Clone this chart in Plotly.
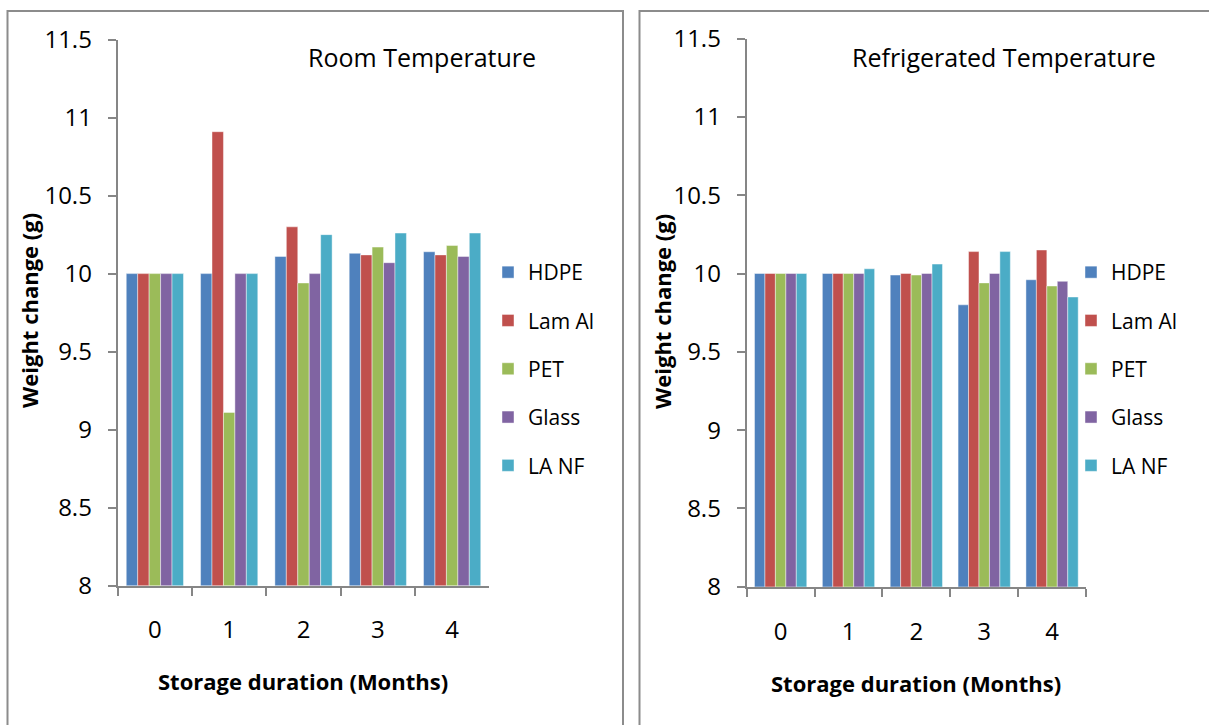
import plotly.graph_objects as go

W, H = 1209, 725

months = ["0", "1", "2", "3", "4"]
series_names = ["HDPE", "Lam Al", "PET", "Glass", "LA NF"]
colors = ["#4F81BD", "#C0504D", "#9BBB59", "#8064A2", "#4BACC6"]

# Room temperature
room_hdpe = [10.00, 10.00, 10.11, 10.13, 10.14]
room_lamal = [10.00, 10.91, 10.30, 10.12, 10.12]
room_pet = [10.00, 9.11, 9.94, 10.17, 10.18]
room_glass = [10.00, 10.00, 10.00, 10.07, 10.11]
room_lanf = [10.00, 10.00, 10.25, 10.26, 10.26]

# Refrigerated temperature
ref_hdpe = [10.00, 10.00, 9.99, 9.80, 9.96]
ref_lamal = [10.00, 10.00, 10.00, 10.14, 10.15]
ref_pet = [10.00, 10.00, 9.99, 9.94, 9.92]
ref_glass = [10.00, 10.00, 10.00, 10.00, 9.95]
ref_lanf = [10.00, 10.03, 10.06, 10.14, 9.85]

room = [room_hdpe, room_lamal, room_pet, room_glass, room_lanf]
refr = [ref_hdpe, ref_lamal, ref_pet, ref_glass, ref_lanf]

y_ticks = [8, 8.5, 9, 9.5, 10, 10.5, 11, 11.5]
y_ticktext = ["8", "8.5", "9", "9.5", "10", "10.5", "11", "11.5"]

FONT = "Open Sans"
AXIS_GRAY = "#868686"


def px(x):
    return x / W


def py(y):
    return 1 - y / H


fig = go.Figure()
for i, name in enumerate(series_names):
    fig.add_trace(go.Bar(
        x=months, y=room[i], name=name, marker_color=colors[i],
        marker_line=dict(color="rgba(255,255,255,0.55)", width=0.8),
        xaxis="x", yaxis="y", legend="legend", legendgroup="a" + name,
    ))
for i, name in enumerate(series_names):
    fig.add_trace(go.Bar(
        x=months, y=refr[i], name=name, marker_color=colors[i],
        marker_line=dict(color="rgba(255,255,255,0.55)", width=0.8),
        xaxis="x2", yaxis="y2", legend="legend2", legendgroup="b" + name,
    ))

xaxis_common = dict(
    type="category", showgrid=False, showline=True, linecolor=AXIS_GRAY,
    linewidth=2, ticks="outside", tickson="boundaries", ticklen=8,
    tickwidth=2, tickcolor=AXIS_GRAY, ticklabelstandoff=22, automargin=False,
    tickfont=dict(family=FONT, size=24, color="black"), zeroline=False,
)
yaxis_common = dict(
    range=[8, 11.5], tickvals=y_ticks, ticktext=y_ticktext, showgrid=False,
    showline=True, linecolor=AXIS_GRAY, linewidth=2, ticks="outside",
    ticklen=8, tickwidth=2, tickcolor=AXIS_GRAY, ticklabelstandoff=11,
    automargin=False,
    tickfont=dict(family=FONT, size=24, color="black"), zeroline=False,
)

legend_common = dict(
    font=dict(family=FONT, size=21, color="black"), tracegroupgap=18,
    bgcolor="rgba(0,0,0,0)", xanchor="left", yanchor="top",
    itemclick=False, itemdoubleclick=False,
)

fig.update_layout(
    width=W, height=H, margin=dict(l=0, r=0, t=0, b=0, autoexpand=False),
    paper_bgcolor="white", plot_bgcolor="white",
    barmode="group", bargap=0.23, bargroupgap=0,
    xaxis=dict(domain=[px(117.7), px(489.3)], anchor="y", **xaxis_common),
    yaxis=dict(domain=[py(585.5), py(39.7)], anchor="x", **yaxis_common),
    xaxis2=dict(domain=[px(746.7), px(1086)], anchor="y2", **xaxis_common),
    yaxis2=dict(domain=[py(586.7), py(38.6)], anchor="x2", **yaxis_common),
    legend=dict(x=px(488), y=py(252), **legend_common),
    legend2=dict(x=px(1071), y=py(252), **legend_common),
    showlegend=True,
)

# panel borders
fig.add_shape(type="rect", xref="paper", yref="paper",
              x0=px(7.5), x1=px(623), y0=-0.2, y1=py(11),
              line=dict(color="#8C8C8C", width=2), fillcolor="rgba(0,0,0,0)")
fig.add_shape(type="rect", xref="paper", yref="paper",
              x0=px(639.5), x1=1.05, y0=-0.2, y1=py(11),
              line=dict(color="#8C8C8C", width=2), fillcolor="rgba(0,0,0,0)")

ann_font = dict(family=FONT, size=25, color="black")
bold_font = dict(family=FONT, size=22, color="black", weight="bold")


def label(text, x, y, font, angle=0):
    fig.add_annotation(text=text, x=px(x), y=py(y), xref="paper", yref="paper",
                       xanchor="center", yanchor="middle", showarrow=False,
                       textangle=angle, font=font)


label("Room Temperature", 422, 57, ann_font)
label("Refrigerated Temperature", 1004, 57, ann_font)
label("Weight change (g)", 29, 311, bold_font, -90)
label("Weight change (g)", 662, 311, bold_font, -90)
label("Storage duration (Months)", 303, 681, bold_font)
label("Storage duration (Months)", 916, 683, bold_font)

fig.write_html("out.html")
